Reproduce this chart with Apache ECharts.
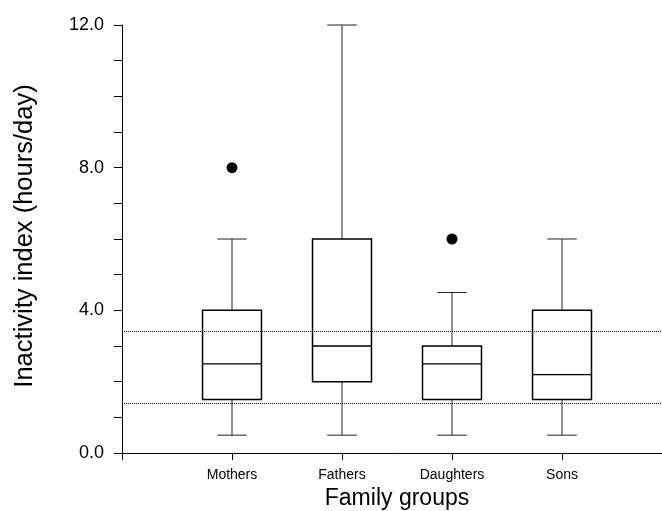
<!DOCTYPE html>
<html>
<head>
<meta charset="utf-8">
<script src="https://cdn.jsdelivr.net/npm/echarts@6/dist/echarts.min.js"></script>
<style>
  html, body { margin: 0; padding: 0; background: #fff; }
  #chart { width: 662px; height: 511px; }
</style>
</head>
<body>
<div id="chart"></div>
<script>
(function() {
    "use strict";

    // x axis slots, empty ones at both ends
    var categories = ['', 'Mothers', 'Fathers', 'Daughters', 'Sons', ''];
    var groups = ['Mothers', 'Fathers', 'Daughters', 'Sons'];
    var whiskerLow = [0.5, 0.5, 0.5, 0.5];
    var quart1 = [1.5, 2.0, 1.5, 1.5];
    var median = [2.5, 3.0, 2.5, 2.2];
    var quart3 = [4.0, 6.0, 3.0, 4.0];
    var whiskerHigh = [6.0, 12.0, 4.5, 6.0];
    var outlierGroups = ['Mothers', 'Daughters'];
    var outlierValues = [8.0, 6.0];
    var refLines = [3.4, 1.4];

    var boxData = groups.map(function(g, i) {
        return [g, whiskerLow[i], quart1[i], median[i], quart3[i], whiskerHigh[i]];
    });
    var outlierData = outlierGroups.map(function(g, i) {
        return [g, outlierValues[i]];
    });

    function renderBox(params, api) {
        var x = api.value(0);
        var lo = api.coord([x, api.value(1)]);
        var b = api.coord([x, api.value(2)]);
        var m = api.coord([x, api.value(3)]);
        var t = api.coord([x, api.value(4)]);
        var hi = api.coord([x, api.value(5)]);
        var band = api.size([1, 0])[0];
        var hw = band * 0.268;   // half box width
        var cw = hw / 2;         // half cap width
        var cx = lo[0];
        var thin = {stroke: '#222', lineWidth: 1};
        var thick = {stroke: '#000', lineWidth: 1.5, fill: null};
        return {
            type: 'group',
            children: [
                {type: 'line', shape: {x1: cx, y1: lo[1], x2: cx, y2: b[1]}, style: thin},
                {type: 'line', shape: {x1: cx, y1: t[1], x2: cx, y2: hi[1]}, style: thin},
                {type: 'line', shape: {x1: cx - cw, y1: lo[1], x2: cx + cw, y2: lo[1]}, style: thin},
                {type: 'line', shape: {x1: cx - cw, y1: hi[1], x2: cx + cw, y2: hi[1]}, style: thin},
                {type: 'rect', shape: {x: cx - hw, y: t[1], width: hw * 2, height: b[1] - t[1]}, style: thick},
                {type: 'line', shape: {x1: cx - hw, y1: m[1], x2: cx + hw, y2: m[1]}, style: {stroke: '#000', lineWidth: 1.3}}
            ]
        };
    }

    var chart = echarts.init(document.getElementById('chart'));
    var font = 'Liberation Sans, Arial, sans-serif';

    var option = {
        animation: false,
        backgroundColor: '#fff',
        textStyle: {fontFamily: font, color: '#000'},
        grid: {left: 122, right: -10, top: 25, bottom: 58, containLabel: false, outerBoundsMode: 'none'},
        xAxis: {
            type: 'category',
            data: categories,
            boundaryGap: false,
            name: 'Family groups',
            nameLocation: 'middle',
            nameGap: 34,
            nameTextStyle: {fontSize: 23, color: '#000', fontFamily: font},
            axisLine: {lineStyle: {color: '#000', width: 1}},
            axisTick: {
                show: true, length: 7, lineStyle: {color: '#000'},
                interval: function(i) { return i < categories.length - 1; }
            },
            axisLabel: {fontSize: 14, color: '#000', margin: 15, interval: 0, fontFamily: font},
            splitLine: {show: false}
        },
        yAxis: {
            type: 'value',
            min: 0,
            max: 12,
            interval: 1,
            name: 'Inactivity index (hours/day)',
            nameLocation: 'middle',
            nameGap: 84,
            nameTextStyle: {fontSize: 25.5, color: '#000', fontFamily: font, padding: [0, 0, 0, 6]},
            axisLine: {show: true, lineStyle: {color: '#000', width: 1}},
            axisTick: {show: true, length: 8, lineStyle: {color: '#000'}},
            axisLabel: {
                fontSize: 18, color: '#000', margin: 18, fontFamily: font,
                formatter: function(v) { return v % 4 === 0 ? v.toFixed(1) : ''; }
            },
            splitLine: {show: false}
        },
        series: [
            {
                name: 'box',
                type: 'custom',
                renderItem: renderBox,
                encode: {x: 0, y: [1, 2, 3, 4, 5]},
                data: boxData,
                z: 3
            },
            {
                name: 'outliers',
                type: 'scatter',
                symbol: 'circle',
                symbolSize: 11,
                itemStyle: {color: '#000', opacity: 1},
                data: outlierData,
                markLine: {
                    silent: true,
                    symbol: 'none',
                    label: {show: false},
                    lineStyle: {color: '#000', type: 'dotted', width: 1},
                    data: refLines.map(function(v) { return {yAxis: v}; })
                },
                z: 4
            }
        ]
    };

    chart.setOption(option);
})();
</script>
</body>
</html>
